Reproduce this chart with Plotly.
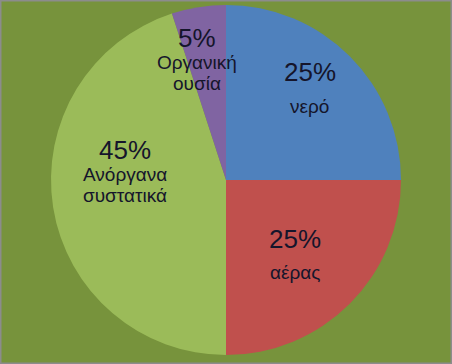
import math
import plotly.graph_objects as go

labels = ["νερό", "αέρας", "Ανόργανα<br>συστατικά", "Οργανική<br>ουσία"]
values = [25, 25, 45, 5]
colors = ["#4F81BD", "#C0504D", "#9BBB59", "#8064A2"]

# label placement styling (radius fraction, angle offset in degrees)
r_frac = [0.70, 0.59, 0.58, 0.73]
ang_off = [-2, 3, 16, -4]

W, H = 452, 364
M = dict(l=0, r=0, t=5, b=9)
PW, PH = W - M["l"] - M["r"], H - M["t"] - M["b"]
R = min(PW, PH) / 2

fig = go.Figure(go.Pie(
    labels=labels,
    values=values,
    sort=False,
    direction="clockwise",
    rotation=0,
    marker=dict(colors=colors, line=dict(width=0)),
    textinfo="none",
    showlegend=False,
    hoverinfo="skip",
))

total = sum(values)
annotations = []
cum = 0
txtcol = "#15152b"
FONT = "Liberation Sans, Arial"
for lab, v, rf, ao in zip(labels, values, r_frac, ang_off):
    mid = (cum + v / 2) / total * 360 + ao
    cum += v
    th = math.radians(mid)
    x = 0.5 + rf * R * math.sin(th) / PW
    y = 0.5 + rf * R * math.cos(th) / PH
    pct = f"{round(v / total * 100)}%"
    lines = lab.split("<br>")
    annotations.append(dict(x=x, y=y, xref="paper", yref="paper", text=pct,
                            showarrow=False, yshift=18, xanchor="center", yanchor="middle",
                            font=dict(family=FONT, size=26, color=txtcol)))
    shifts = [-16] if len(lines) == 1 else [-7, -28]
    for ln, s in zip(lines, shifts):
        annotations.append(dict(x=x, y=y, xref="paper", yref="paper", text=ln,
                                showarrow=False, yshift=s, xanchor="center", yanchor="middle",
                                font=dict(family=FONT, size=19, color=txtcol)))

fig.update_layout(
    width=W, height=H,
    margin=M,
    paper_bgcolor="#77933C",
    plot_bgcolor="#77933C",
    annotations=annotations,
    shapes=[dict(type="rect", xref="paper", yref="paper",
                 x0=0, x1=1, y0=-M["b"] / PH, y1=1 + M["t"] / PH,
                 line=dict(color="#8C8C8C", width=3))],
)

fig.write_html("out.html")
